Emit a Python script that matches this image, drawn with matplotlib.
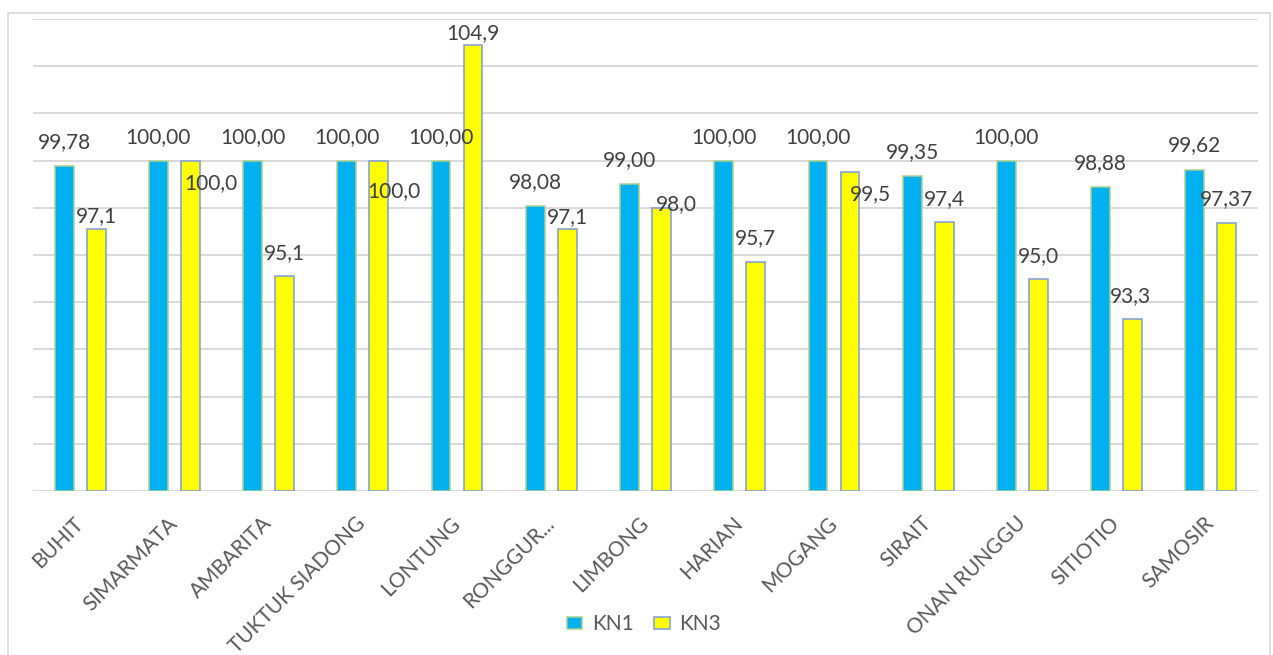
import matplotlib.pyplot as plt
from matplotlib.patches import Rectangle

desa = ["BUHIT", "SIMARMATA", "AMBARITA", "TUKTUK SIADONG", "LONTUNG",
        "RONGGUR...", "LIMBONG", "HARIAN", "MOGANG", "SIRAIT",
        "ONAN RUNGGU", "SITIOTIO", "SAMOSIR"]
kn1 = [99.78, 100.00, 100.00, 100.00, 100.00, 98.08, 99.00, 100.00,
       100.00, 99.35, 100.00, 98.88, 99.62]
kn3 = [97.1, 100.0, 95.1, 100.0, 104.9, 97.1, 98.0, 95.7, 99.5, 97.4,
       95.0, 93.3, 97.37]
kn3_text = ["97,1", "100,0", "95,1", "100,0", "104,9", "97,1", "98,0",
            "95,7", "99,5", "97,4", "95,0", "93,3", "97,37"]

# label offsets (pixels) for KN3, excel pushed some of them around
kn3_dx = [0, 21, 0, 15, 0, 0, 15, 0, 20, 0, 0, -2, 0]
kn3_dy = [13, -22, 23, -30, 12, 12, 4, 24, -22, 23, 23, 23, 24]

plt.rcParams['font.family'] = ['Lato', 'DejaVu Sans']

fig = plt.figure(figsize=(12.73, 6.55), dpi=100)
ax = fig.add_axes([33 / 1273, 1 - 491 / 655, 1225 / 1273, 472 / 655])

x = list(range(len(desa)))
w = 0.2
off = 0.17
b1 = ax.bar([i - off for i in x], [v - 86 for v in kn1], w, bottom=86,
            color='#00B0F0', edgecolor='#A9D18E', linewidth=1.1,
            label='KN1', zorder=3)
b3 = ax.bar([i + off for i in x], [v - 86 for v in kn3], w, bottom=86,
            color='#FFFF00', edgecolor='#7F9BDB', linewidth=1.1,
            label='KN3', zorder=3)

for i, v in enumerate(kn1):
    ax.annotate(f"{v:.2f}".replace(".", ","), (i - off, v),
                xytext=(0, 24), textcoords='offset pixels',
                ha='center', va='center', fontsize=15, color='#404040',
                zorder=5)
for i, v in enumerate(kn3):
    ax.annotate(kn3_text[i], (i + off, v),
                xytext=(kn3_dx[i], kn3_dy[i]), textcoords='offset pixels',
                ha='center', va='center', fontsize=15, color='#404040',
                zorder=5)

ax.set_ylim(86, 106)
ax.set_xlim(-0.5, len(desa) - 0.5)
ax.set_yticks(range(86, 107, 2))
ax.set_yticklabels([])
ax.tick_params(axis='y', length=0)
ax.grid(axis='y', color='#D9D9D9', linewidth=1.4, zorder=0)
ax.set_axisbelow(True)
for s in ax.spines.values():
    s.set_visible(False)

ax.set_xticks(x)
ax.set_xticklabels(desa, rotation=45, ha='right', va='center',
                   rotation_mode='anchor', fontsize=15, color='#595959')
ax.tick_params(axis='x', length=0, pad=21)

leg = fig.legend(handles=[b1, b3], labels=['KN1', 'KN3'], loc='center',
                 bbox_to_anchor=(644 / 1273, 1 - 624 / 655), ncol=2,
                 frameon=False, fontsize=15, handlelength=0.75,
                 handleheight=0.5, handletextpad=0.45, columnspacing=1.0)
for t in leg.get_texts():
    t.set_color('#595959')

fig.patches.append(Rectangle((8 / 1273, -0.02), 1262 / 1273, 1 - 13 / 655 + 0.02,
                             transform=fig.transFigure, fill=False,
                             edgecolor='#D9D9D9', linewidth=1.2))

fig.savefig('out.png', dpi=100)
